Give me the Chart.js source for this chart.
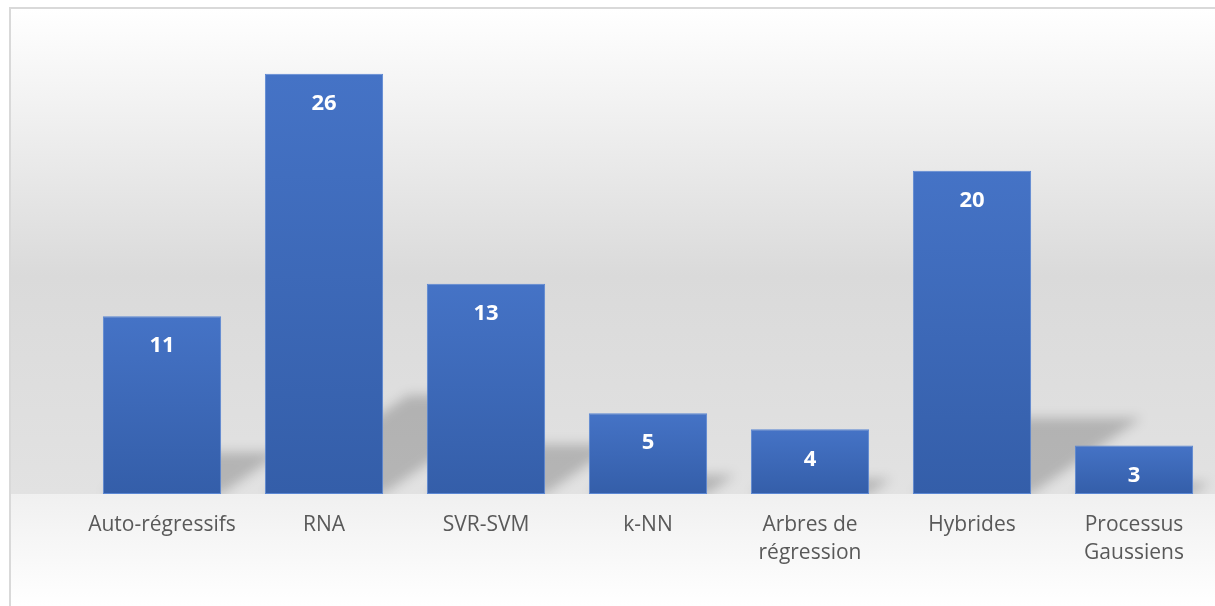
<!DOCTYPE html>
<html>
<head>
<meta charset="utf-8">
<script src="https://cdn.jsdelivr.net/npm/chart.js@4/dist/chart.umd.min.js"></script>
<style>
  html, body { margin: 0; padding: 0; background: #ffffff; overflow: hidden; }
  #wrap { position: relative; width: 1215px; height: 606px; }
</style>
</head>
<body>
<div id="wrap"><canvas id="methodsChart"></canvas></div>
<script>
// number of studies per forecasting method family
var categories = [
  "Auto-régressifs",
  "RNA",
  "SVR-SVM",
  "k-NN",
  ["Arbres de", "régression"],
  "Hybrides",
  ["Processus", "Gaussiens"]
];
var counts = [11, 26, 13, 5, 4, 20, 3];
var yMin = 0;
var yMax = 30;

// plot wall / floor fill plus the thin frame line
var backdrop = {
  id: 'backdrop',
  beforeDraw: function (chart) {
    var ctx = chart.ctx;
    var base = chart.scales.y.getPixelForValue(0);
    ctx.save();
    var wall = ctx.createLinearGradient(0, 9, 0, base);
    wall.addColorStop(0, '#ffffff');
    wall.addColorStop(0.55, '#dadada');
    wall.addColorStop(1, '#e2e2e2');
    ctx.fillStyle = wall;
    ctx.fillRect(10, 9, chart.width, base - 9);
    var floor = ctx.createLinearGradient(0, base, 0, chart.height);
    floor.addColorStop(0, '#f0f0f0');
    floor.addColorStop(1, '#ffffff');
    ctx.fillStyle = floor;
    ctx.fillRect(10, base, chart.width, chart.height - base);
    ctx.fillStyle = '#d9d9d9';
    ctx.fillRect(9, 7, chart.width, 2);
    ctx.fillRect(9, 7, 2, chart.height);
    ctx.restore();
  },
  // skewed soft shadow cast up and to the right behind each bar
  beforeDatasetsDraw: function (chart) {
    var ctx = chart.ctx;
    var base = chart.scales.y.getPixelForValue(0);
    var bars = chart.getDatasetMeta(0).data;
    ctx.save();
    ctx.beginPath();
    ctx.rect(10, 9, chart.width, base - 9);
    ctx.clip();
    ctx.filter = 'blur(6px)';
    ctx.fillStyle = 'rgba(0,0,0,0.2)';
    bars.forEach(function (bar) {
      var h = base - bar.y;
      var sh = h * 0.235;
      var dx = sh * 1.45;
      var left = bar.x - bar.width / 2;
      var right = bar.x + bar.width / 2;
      ctx.beginPath();
      ctx.moveTo(left, base);
      ctx.lineTo(right, base);
      ctx.lineTo(right + dx, base - sh);
      ctx.lineTo(left + dx, base - sh);
      ctx.closePath();
      ctx.fill();
    });
    ctx.restore();
  },
  // value labels inside the top of each bar
  afterDatasetsDraw: function (chart) {
    var ctx = chart.ctx;
    var bars = chart.getDatasetMeta(0).data;
    var values = chart.data.datasets[0].data;
    ctx.save();
    ctx.fillStyle = '#ffffff';
    ctx.font = 'bold 22px "Open Sans"';
    ctx.textAlign = 'center';
    ctx.textBaseline = 'middle';
    bars.forEach(function (bar, i) {
      ctx.fillText(values[i], bar.x, bar.y + 30);
    });
    ctx.restore();
  }
};

function barFill(context) {
  var chart = context.chart;
  if (!chart.chartArea) return '#4472c4';
  var top = chart.scales.y.getPixelForValue(context.raw);
  var bottom = chart.scales.y.getPixelForValue(0);
  var g = chart.ctx.createLinearGradient(0, top, 0, bottom);
  g.addColorStop(0, '#4573c6');
  g.addColorStop(1, '#345ea9');
  return g;
}

var el = document.getElementById('methodsChart');
var methodsChart = new Chart(el, {
  type: 'bar',
  data: {
    labels: categories,
    datasets: [{
      data: counts,
      backgroundColor: barFill,
      borderColor: '#5b87d3',
      borderWidth: 1,
      borderSkipped: false,
      categoryPercentage: 1.0,
      barPercentage: 0.73
    }]
  },
  options: {
    responsive: true,
    maintainAspectRatio: false,
    animation: false,
    layout: { padding: { left: 81, right: 0, top: 9, bottom: 22 } },
    plugins: {
      legend: { display: false },
      tooltip: { enabled: false }
    },
    scales: {
      x: {
        grid: { display: false, drawTicks: false },
        border: { display: false },
        ticks: {
          color: '#595959',
          padding: 17,
          maxRotation: 0,
          autoSkip: false,
          font: { family: '"Open Sans"', size: 21, lineHeight: 1.333 }
        }
      },
      y: {
        display: false,
        min: yMin,
        max: yMax
      }
    }
  },
  plugins: [backdrop]
});
</script>
</body>
</html>
